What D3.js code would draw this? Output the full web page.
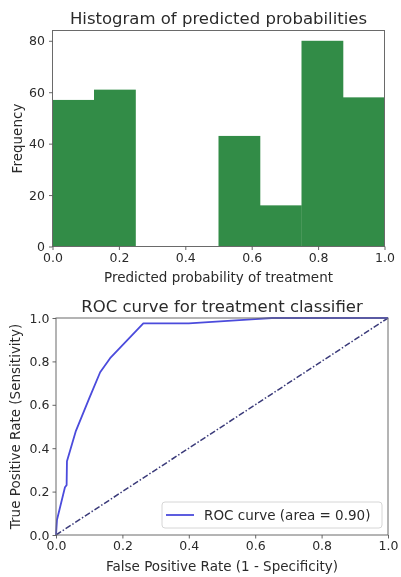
<!DOCTYPE html>
<html>
<head>
<meta charset="utf-8">
<script src="https://cdn.jsdelivr.net/npm/d3@7"></script>
<style>
  html, body { margin: 0; padding: 0; background: #fff; }
  svg { display: block; }
  text { font-family: "DejaVu Sans", sans-serif; fill: #2b2b2b; }
</style>
</head>
<body>
<svg id="chart" width="401" height="577"></svg>
<script>
// Histogram of predicted probabilities (8 equal bins on [0, 1])
const histBinEdges = [0, 0.125, 0.25, 0.375, 0.5, 0.625, 0.75, 0.875, 1.0];
const histCounts = [57, 61, 0, 0, 43, 16, 80, 58];
const histXTicks = [0, 0.2, 0.4, 0.6, 0.8, 1.0];
const histYTicks = [0, 20, 40, 60, 80];

// ROC curve points (false positive rate, true positive rate)
const rocFpr = [0, 0.003, 0.027, 0.032, 0.033, 0.06, 0.1, 0.133, 0.163, 0.263, 0.4, 0.6, 0.65, 1.0];
const rocTpr = [0, 0.07, 0.22, 0.23, 0.34, 0.48, 0.63, 0.75, 0.815, 0.975, 0.975, 0.995, 1.0, 1.0];
const rocArea = 0.90;
const rocTicks = [0, 0.2, 0.4, 0.6, 0.8, 1.0];

const svg = d3.select("#chart");
const TICK_FS = 12.5, LABEL_FS = 13.5, TITLE_FS = 16.5;

// slight softening of the whole figure
svg.append("defs").append("filter").attr("id", "soft")
  .attr("x", 0).attr("y", 0).attr("width", 1).attr("height", 1)
  .append("feGaussianBlur").attr("stdDeviation", 0.4);
const root = svg.append("g").attr("filter", "url(#soft)");
root.append("rect").attr("width", 401).attr("height", 577).attr("fill", "#fff");

function styleAxis(g) {
  g.select(".domain").remove();
  g.selectAll(".tick line").attr("stroke", "#555").attr("stroke-width", 0.9);
  g.selectAll(".tick text").style("font-size", TICK_FS + "px").style("fill", "#2b2b2b");
}

function frame(g, x0, y0, w, h) {
  g.append("rect").attr("x", x0).attr("y", y0).attr("width", w).attr("height", h)
    .attr("fill", "none").attr("stroke", "#6a6a6a").attr("stroke-width", 1);
}

// ---------- Histogram ----------
{
  const L = 52.5, R = 384.5, T = 30.5, B = 246.5;
  const x = d3.scaleLinear().domain([0, 1]).range([L, R]);
  const y = d3.scaleLinear().domain([0, 84]).range([B, T]);
  const g = root.append("g");

  const bins = histCounts.map((c, i) => ({ x0: histBinEdges[i], x1: histBinEdges[i + 1], c }));
  g.selectAll("rect.bar").data(bins).join("rect")
    .attr("class", "bar")
    .attr("x", d => x(d.x0))
    .attr("width", d => x(d.x1) - x(d.x0) + 0.3)
    .attr("y", d => y(d.c))
    .attr("height", d => y(0) - y(d.c))
    .attr("fill", "#328c47");

  frame(g, L, T, R - L, B - T);

  g.append("g").attr("transform", `translate(0,${B})`)
    .call(d3.axisBottom(x).tickValues(histXTicks).tickFormat(d3.format(".1f")).tickSize(3.5).tickPadding(3))
    .call(styleAxis);
  g.append("g").attr("transform", `translate(${L},0)`)
    .call(d3.axisLeft(y).tickValues(histYTicks).tickFormat(d3.format("d")).tickSize(3.5).tickPadding(4))
    .call(styleAxis);

  g.append("text").attr("x", (L + R) / 2).attr("y", 24).attr("text-anchor", "middle")
    .style("font-size", TITLE_FS + "px").text("Histogram of predicted probabilities");
  g.append("text").attr("x", (L + R) / 2).attr("y", 282).attr("text-anchor", "middle")
    .style("font-size", LABEL_FS + "px").text("Predicted probability of treatment");
  g.append("text").attr("transform", `translate(21.5,${(T + B) / 2}) rotate(-90)`).attr("text-anchor", "middle")
    .style("font-size", LABEL_FS + "px").text("Frequency");
}

// ---------- ROC curve ----------
{
  const L = 56, R = 388, T = 318, B = 535;
  const x = d3.scaleLinear().domain([0, 1]).range([L, R]);
  const y = d3.scaleLinear().domain([0, 1]).range([B, T]);
  const g = root.append("g");

  // chance diagonal
  g.append("line")
    .attr("x1", x(0)).attr("y1", y(0)).attr("x2", x(1)).attr("y2", y(1))
    .attr("stroke", "#3b3b7a").attr("stroke-width", 1.5)
    .attr("stroke-dasharray", "6,2,1.5,2");

  const pts = rocFpr.map((f, i) => [f, rocTpr[i]]);
  g.append("path").datum(pts)
    .attr("d", d3.line().x(d => x(d[0])).y(d => y(d[1])))
    .attr("fill", "none").attr("stroke", "#4b4bdc").attr("stroke-width", 1.8)
    .attr("stroke-linejoin", "round");

  frame(g, L, T, R - L, B - T);

  g.append("g").attr("transform", `translate(0,${B})`)
    .call(d3.axisBottom(x).tickValues(rocTicks).tickFormat(d3.format(".1f")).tickSize(3.5).tickPadding(3))
    .call(styleAxis);
  g.append("g").attr("transform", `translate(${L},0)`)
    .call(d3.axisLeft(y).tickValues(rocTicks).tickFormat(d3.format(".1f")).tickSize(3.5).tickPadding(3))
    .call(styleAxis);

  // legend
  const lg = g.append("g");
  lg.append("rect").attr("x", 162).attr("y", 502).attr("width", 220).attr("height", 26)
    .attr("rx", 3).attr("fill", "#fff").attr("fill-opacity", 0.85)
    .attr("stroke", "#d6d6d6").attr("stroke-width", 1);
  lg.append("line").attr("x1", 166).attr("x2", 194).attr("y1", 515).attr("y2", 515)
    .attr("stroke", "#4b4bdc").attr("stroke-width", 1.8);
  lg.append("text").attr("x", 204).attr("y", 520)
    .style("font-size", LABEL_FS + "px").text(`ROC curve (area = ${rocArea.toFixed(2)})`);

  g.append("text").attr("x", (L + R) / 2).attr("y", 312).attr("text-anchor", "middle")
    .style("font-size", TITLE_FS + "px").text("ROC curve for treatment classifier");
  g.append("text").attr("x", (L + R) / 2).attr("y", 571).attr("text-anchor", "middle")
    .style("font-size", LABEL_FS + "px").text("False Positive Rate (1 - Specificity)");
  g.append("text").attr("transform", `translate(20,${(T + B) / 2}) rotate(-90)`).attr("text-anchor", "middle")
    .style("font-size", LABEL_FS + "px").text("True Positive Rate (Sensitivity)");
}
</script>
</body>
</html>
